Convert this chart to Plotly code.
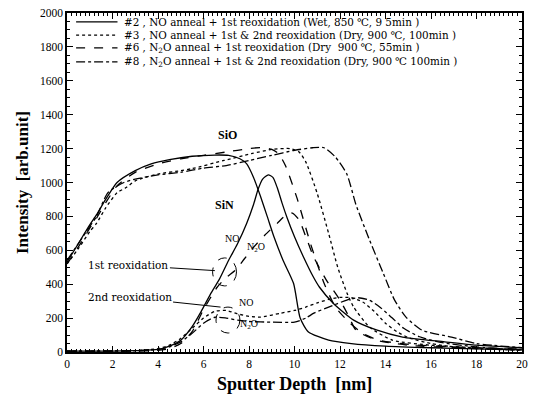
import plotly.graph_objects as go

# ---------------- data ----------------
# #2 NO anneal + 1st reox (solid)
s2_sio_x = [0, 0.5, 1, 1.3, 1.7, 2.2, 3, 3.7, 4.5, 5.5, 6.5, 7.1, 7.6, 7.9, 8.2, 8.5, 8.8, 9.1, 9.5, 9.96, 10.25, 10.6, 11.5, 12.5, 14, 16, 18, 20]
s2_sio_y = [530, 640, 750, 810, 900, 1000, 1070, 1110, 1135, 1155, 1162, 1160, 1140, 1110, 1030, 920, 800, 678, 540, 404, 200, 120, 70, 50, 35, 25, 18, 12]
s2_sin_x = [0, 2, 3, 4, 4.5, 5, 5.5, 5.9, 6.3, 6.7, 7.1, 7.5, 7.9, 8.2, 8.4, 8.6, 8.85, 9.05, 9.24, 9.45, 9.67, 10, 10.4, 10.8, 11.1, 11.7, 12.6, 13.6, 14.75, 16.6, 18, 20]
s2_sin_y = [5, 5, 8, 15, 35, 70, 150, 240, 340, 430, 540, 640, 760, 870, 960, 1020, 1045, 1030, 970, 880, 794, 680, 559, 450, 382, 288, 188, 130, 88, 60, 40, 25]

# #3 NO anneal + 1st & 2nd reox (dotted)
s3_sio_x = [0, 0.5, 1, 1.3, 1.7, 2.2, 2.6, 3, 4, 5, 5.5, 6.9, 8.1, 9, 9.8, 10.2, 10.5, 11, 11.5, 11.9, 12.3, 12.6, 13.3, 14.3, 16, 18, 20]
s3_sio_y = [520, 610, 710, 760, 850, 940, 970, 1010, 1050, 1070, 1082, 1130, 1170, 1195, 1200, 1180, 1120, 935, 700, 500, 350, 265, 147, 70, 40, 25, 15]
s3_sin_x = [0, 3, 4, 4.5, 5, 5.5, 6, 6.5, 7, 7.5, 8, 8.5, 9.4, 10, 10.5, 11, 11.5, 12, 12.5, 13, 13.5, 14, 14.5, 15, 16, 17, 18, 20]
s3_sin_y = [5, 8, 20, 40, 80, 140, 200, 240, 245, 225, 210, 206, 229, 245, 265, 290, 310, 322, 320, 295, 240, 170, 120, 85, 50, 30, 20, 10]

# #6 N2O anneal + 1st reox (dashed)
s6_sio_x = [0, 0.5, 1, 1.3, 1.7, 2.2, 3, 4, 5, 6, 7, 8, 8.5, 9, 9.3, 9.6, 10.1, 10.7, 11.3, 11.8, 12.4, 13, 13.7, 15, 17, 20]
s6_sio_y = [520, 620, 730, 790, 880, 980, 1060, 1110, 1140, 1160, 1180, 1200, 1206, 1195, 1170, 1100, 912, 641, 406, 265, 175, 110, 70, 45, 30, 18]
s6_sin_x = [0, 3, 4, 4.5, 5, 5.5, 6, 6.6, 7, 7.4, 7.8, 8.2, 8.7, 9.24, 9.6, 9.9, 10.2, 10.5, 10.85, 11.4, 12, 12.4, 12.7, 13.6, 15, 17, 20]
s6_sin_y = [5, 5, 10, 20, 50, 120, 250, 382, 440, 482, 550, 618, 690, 759, 805, 820, 780, 680, 559, 424, 306, 206, 129, 70, 40, 25, 12]

# #8 N2O anneal + 1st & 2nd reox (dash-dot)
s8_sio_x = [0, 0.5, 1, 1.3, 1.8, 2.5, 3, 4, 5, 6, 7, 8, 9, 10, 10.8, 11.3, 11.8, 12.3, 12.7, 13.3, 13.9, 14.4, 14.9, 15.6, 16.9, 18, 20]
s8_sio_y = [540, 640, 740, 800, 940, 1000, 1020, 1045, 1060, 1085, 1100, 1130, 1160, 1190, 1205, 1205, 1150, 1050, 870, 660, 465, 306, 206, 129, 88, 50, 25]
s8_sin_x = [0, 3, 4, 4.5, 5, 5.5, 6, 6.5, 7, 7.5, 8, 9, 10, 10.5, 10.85, 11.5, 12.3, 12.8, 13.3, 13.8, 14.3, 14.8, 15.5, 16.5, 18, 20]
s8_sin_y = [5, 8, 15, 30, 60, 110, 170, 205, 200, 188, 180, 176, 176, 200, 229, 265, 306, 320, 305, 260, 200, 140, 90, 55, 30, 12]

legend_labels = [
    "#2 , NO anneal + 1st reoxidation (Wet, 850 ℃, 9 5min )",
    "#3 , NO anneal + 1st &amp; 2nd reoxidation (Dry, 900 ℃, 100min )",
    "#6 , N<sub>2</sub>O anneal + 1st reoxidation (Dry  900 ℃, 55min )",
    "#8 , N<sub>2</sub>O anneal + 1st &amp; 2nd reoxidation (Dry, 900 ℃ 100min )",
]
dashes = ["solid", "dot", "dash", "dashdot"]

x_ticks = list(range(0, 21, 2))
y_ticks = list(range(0, 2001, 200))

series = [
    (s2_sio_x, s2_sio_y, s2_sin_x, s2_sin_y),
    (s3_sio_x, s3_sio_y, s3_sin_x, s3_sin_y),
    (s6_sio_x, s6_sio_y, s6_sin_x, s6_sin_y),
    (s8_sio_x, s8_sio_y, s8_sin_x, s8_sin_y),
]

SERIF = "Liberation Serif, Times New Roman, serif"
WIDE = "DejaVu Serif, serif"

fig = go.Figure()
for (ax_, ay_, bx_, by_), d in zip(series, dashes):
    for xx, yy in ((ax_, ay_), (bx_, by_)):
        fig.add_trace(go.Scatter(
            x=xx, y=yy, mode="lines", showlegend=False,
            line=dict(color="black", width=1.3, dash=d, shape="spline", smoothing=0.6),
        ))

# custom legend (text + sample lines)
row_y = [0.974, 0.935, 0.897, 0.856]
for lab, d, ry in zip(legend_labels, dashes, row_y):
    fig.add_shape(type="line", xref="paper", yref="paper", x0=0.02, x1=0.111, y0=ry, y1=ry,
                  line=dict(color="black", width=1.3, dash=d))
    fig.add_annotation(xref="paper", yref="paper", x=0.121, y=ry, text=lab, showarrow=False,
                       xanchor="left", yanchor="middle", font=dict(family=WIDE, size=10.4, color="black"))

# curve labels
labels = [
    (7.07, 1282, "<b>SiO</b>", 12),
    (6.94, 865, "<b>SiN</b>", 12),
    (7.25, 670, "NO", 10),
    (8.3, 615, "N<sub>2</sub>O", 10),
    (7.85, 290, "NO", 10),
    (8.0, 165, "N<sub>2</sub>O", 10),
]
for lx, ly, lt, fs in labels:
    fig.add_annotation(x=lx, y=ly, text=lt, showarrow=False,
                       font=dict(family=SERIF, size=fs, color="black"))

# reoxidation labels with pointer lines
fig.add_annotation(x=6.5, y=480, ax=2.7, ay=512, axref="x", ayref="y", text="1st reoxidation",
                   showarrow=True, arrowhead=0, arrowwidth=1, arrowcolor="black",
                   font=dict(family=WIDE, size=10.5, color="black"))
fig.add_annotation(x=6.75, y=265, ax=2.75, ay=322, axref="x", ayref="y", text="2nd reoxidation",
                   showarrow=True, arrowhead=0, arrowwidth=1, arrowcolor="black",
                   font=dict(family=WIDE, size=10.5, color="black"))

# dashed ellipses
fig.add_shape(type="circle", xref="x", yref="y", x0=6.4, x1=7.45, y0=390, y1=555,
              line=dict(color="black", width=1, dash="dash"))
fig.add_shape(type="circle", xref="x", yref="y", x0=6.55, x1=7.6, y0=112, y1=265,
              line=dict(color="black", width=1, dash="dash"))

# axis titles
fig.add_annotation(xref="paper", yref="paper", x=0.5, y=-0.094, text="<b>Sputter Depth  [nm]</b>",
                   showarrow=False, yanchor="middle", xanchor="center",
                   font=dict(family=SERIF, size=18, color="black"))
fig.add_annotation(xref="paper", yref="paper", x=-0.0976, y=0.5, text="<b>Intensity  [arb.unit]</b>",
                   showarrow=False, textangle=-90, xanchor="center", yanchor="middle",
                   font=dict(family=SERIF, size=17, color="black"))

axis_common = dict(showline=True, linecolor="black", linewidth=1.5, mirror="allticks",
                   ticks="inside", tickcolor="black", ticklen=6, tickwidth=1,
                   showgrid=False, zeroline=False,
                   tickfont=dict(family=SERIF, size=11.5, color="black"))
fig.update_xaxes(range=[0, 20], tickvals=x_ticks, ticktext=[str(v) for v in x_ticks],
                 minor=dict(ticks="inside", ticklen=3, dtick=0.2, tickcolor="black"),
                 **axis_common)
fig.update_yaxes(range=[0, 2000], tickvals=y_ticks, ticktext=[str(v) for v in y_ticks],
                 minor=dict(ticks="inside", ticklen=3, dtick=50, tickcolor="black"),
                 **axis_common)

fig.update_layout(width=535, height=405, margin=dict(l=67, r=7, t=12, b=53),
                  paper_bgcolor="white", plot_bgcolor="white", showlegend=False)

fig.write_html("out.html")
